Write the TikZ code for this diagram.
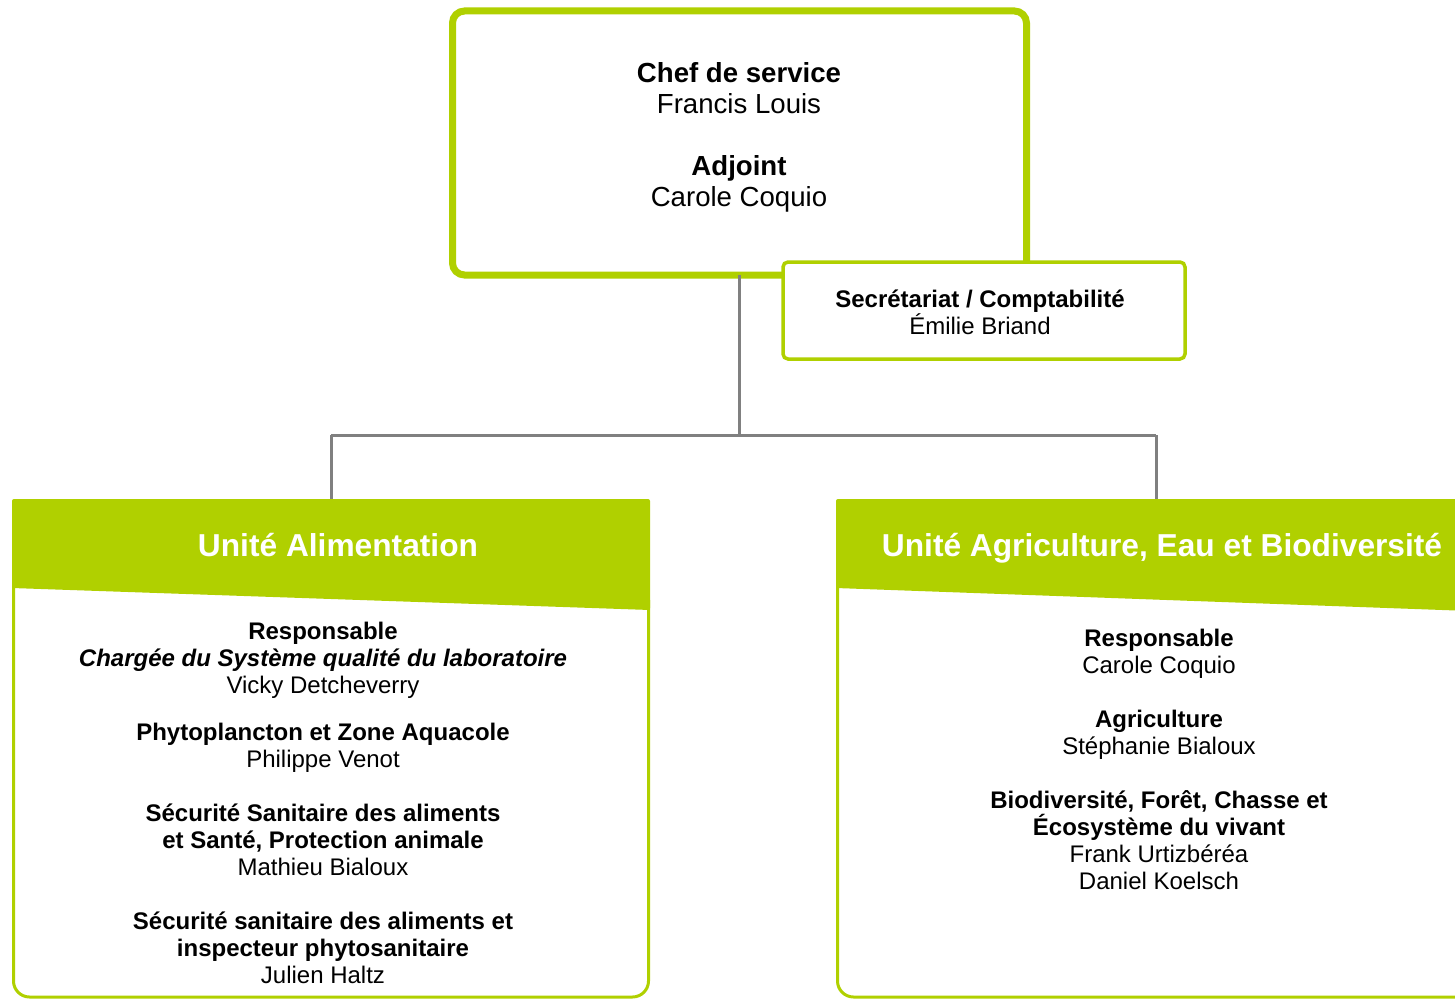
\documentclass[tikz,border=0pt]{standalone}
\usepackage{fontspec}
\setmainfont{Liberation Sans}
\definecolor{lime}{RGB}{176,208,0}
\definecolor{linegray}{RGB}{128,128,128}
\begin{document}
\begin{tikzpicture}[x=1pt,y=-1pt,
  topbox/.style={draw=lime,line width=7pt,rounded corners=12pt,fill=white,outer sep=0pt},
  secbox/.style={draw=lime,line width=3.5pt,rounded corners=5pt,fill=white,outer sep=0pt},
  link/.style={draw=linegray,line width=3pt},
  border/.style={draw=lime,line width=3pt},
  band/.style={fill=lime},
  tb/.style={font=\fontsize{27.6}{31}\selectfont\bfseries,inner sep=0pt,anchor=base},
  tr/.style={font=\fontsize{27.6}{31}\selectfont,inner sep=0pt,anchor=base},
  sb/.style={font=\fontsize{24}{27}\selectfont\bfseries,inner sep=0pt,anchor=base},
  sr/.style={font=\fontsize{24}{27}\selectfont,inner sep=0pt,anchor=base},
  si/.style={font=\fontsize{24}{27}\selectfont\bfseries\itshape,inner sep=0pt,anchor=base},
  title/.style={font=\fontsize{31.7}{36}\selectfont\bfseries,text=white,inner sep=0pt,anchor=base}]
\useasboundingbox (0,0) rectangle (1455,998);
\fill[white] (0,0) rectangle (1455,998);

% connectors
\coordinate (hubL) at (331,435);
\coordinate (hubR) at (1156,435);
\coordinate (hubC) at (739,435);

% top box
\node[topbox,minimum width=574pt,minimum height=264pt,anchor=north west] (chef) at (452.5,11) {};
\draw[link] (chef.south -| hubC) -- (hubC);
\draw[link] (hubL) -- (hubR);

% secretariat
\node[secbox,minimum width=402pt,minimum height=97pt,anchor=north west] (sec) at (783,262) {};
\node[sb] (sec1) at (980,307) {Secrétariat / Comptabilité};
\node[sr] (sec2) at (980,334) {Émilie Briand};

\node[tb] (t1) at (739,82) {Chef de service};
\node[tr] (t2) at (739,113) {Francis Louis};
\node[tb] (t3) at (739,175) {Adjoint};
\node[tr] (t4) at (739,206) {Carole Coquio};

% left unit
\draw[border,rounded corners=16pt] (13.5,585) -- (13.5,997) -- (648.5,997) -- (648.5,600);
\fill[band,rounded corners=2pt] (12,499) -- (650,499) -- (650,610) -- (12,588) -- cycle;
\coordinate (uaTop) at (331,499);
\draw[link] (hubL) -- (uaTop);
\node[title] (ua) at (338,556) {Unité Alimentation};

\node[sb] (l1) at (323,639) {Responsable};
\node[si] (l2) at (323,666) {Chargée du Système qualité du laboratoire};
\node[sr] (l3) at (323,693) {Vicky Detcheverry};
\node[sb] (l4) at (323,740) {Phytoplancton et Zone Aquacole};
\node[sr] (l5) at (323,767) {Philippe Venot};
\node[sb] (l6) at (323,821) {Sécurité Sanitaire des aliments};
\node[sb] (l7) at (323,848) {et Santé, Protection animale};
\node[sr] (l8) at (323,875) {Mathieu Bialoux};
\node[sb] (l9) at (323,929) {Sécurité sanitaire des aliments et};
\node[sb] (l10) at (323,956) {inspecteur phytosanitaire};
\node[sr] (l11) at (323,983) {Julien Haltz};

% right unit
\draw[border,rounded corners=16pt] (837.5,585) -- (837.5,997) -- (1470,997);
\fill[band,rounded corners=2pt] (836,499) -- (1470,499) -- (1470,611) -- (836,588) -- cycle;
\coordinate (ueTop) at (1156,499);
\draw[link] (hubR) -- (ueTop);
\node[title] (ue) at (1162,556) {Unité Agriculture, Eau et Biodiversité};

\node[sb] (r1) at (1159,646) {Responsable};
\node[sr] (r2) at (1159,673) {Carole Coquio};
\node[sb] (r3) at (1159,727) {Agriculture};
\node[sr] (r4) at (1159,754) {Stéphanie Bialoux};
\node[sb] (r5) at (1159,808) {Biodiversité, Forêt, Chasse et};
\node[sb] (r6) at (1159,835) {Écosystème du vivant};
\node[sr] (r7) at (1159,862) {Frank Urtizbéréa};
\node[sr] (r8) at (1159,889) {Daniel Koelsch};
\end{tikzpicture}
\end{document}
